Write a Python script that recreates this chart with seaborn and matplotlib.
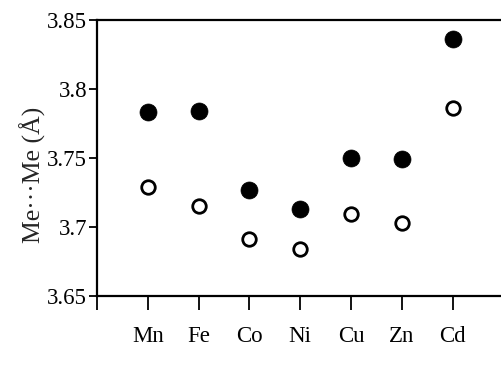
import matplotlib
matplotlib.use("Agg")
import matplotlib.pyplot as plt
import seaborn as sns
import pandas as pd

metals = ["Mn", "Fe", "Co", "Ni", "Cu", "Zn", "Cd"]
filled_vals = [3.783, 3.784, 3.727, 3.713, 3.750, 3.749, 3.836]
open_vals = [3.729, 3.715, 3.691, 3.684, 3.709, 3.703, 3.786]
yticks = [3.65, 3.7, 3.75, 3.8, 3.85]
ytick_labels = ["3.65", "3.7", "3.75", "3.8", "3.85"]

sns.set_theme(style="ticks")
plt.rcParams["font.family"] = ["Liberation Serif", "DejaVu Serif"]

df_f = pd.DataFrame({"metal": metals, "d": filled_vals})
df_o = pd.DataFrame({"metal": metals, "d": open_vals})

fig = plt.figure(figsize=(5.02, 3.76), dpi=100)
ax = fig.add_axes([0.193, 0.213, 0.81, 0.734])

sns.scatterplot(data=df_f, x="metal", y="d", ax=ax, s=150, color="black",
                edgecolor="black", linewidth=0.5, zorder=3)
sns.scatterplot(data=df_o, x="metal", y="d", ax=ax, s=95, facecolor="white",
                edgecolor="black", linewidth=2.0, zorder=3)

ax.set_xlim(-1, 6.95)
ax.set_ylim(3.65, 3.85)
ax.set_xticks(range(-1, 8))
ax.set_xticklabels([""] + metals + [""], fontsize=16.5)
ax.set_yticks(yticks)
ax.set_yticklabels(ytick_labels, fontsize=16.5)
ax.set_xlabel("")
ax.set_ylabel("Me\u00b7\u00b7\u00b7Me (\u00c5)", fontsize=18.5)
ax.yaxis.set_label_coords(-0.125, 0.44)

for side in ["left", "bottom", "top"]:
    ax.spines[side].set_linewidth(1.6)
    ax.spines[side].set_color("black")
ax.spines["right"].set_linewidth(0.8)
ax.spines["right"].set_color("#888888")
ax.tick_params(axis="x", direction="out", length=10, width=1.3, pad=12, colors="black")
ax.tick_params(axis="y", direction="out", length=6, width=1.3, pad=1, colors="black")

fig.savefig("out.png", dpi=100)
